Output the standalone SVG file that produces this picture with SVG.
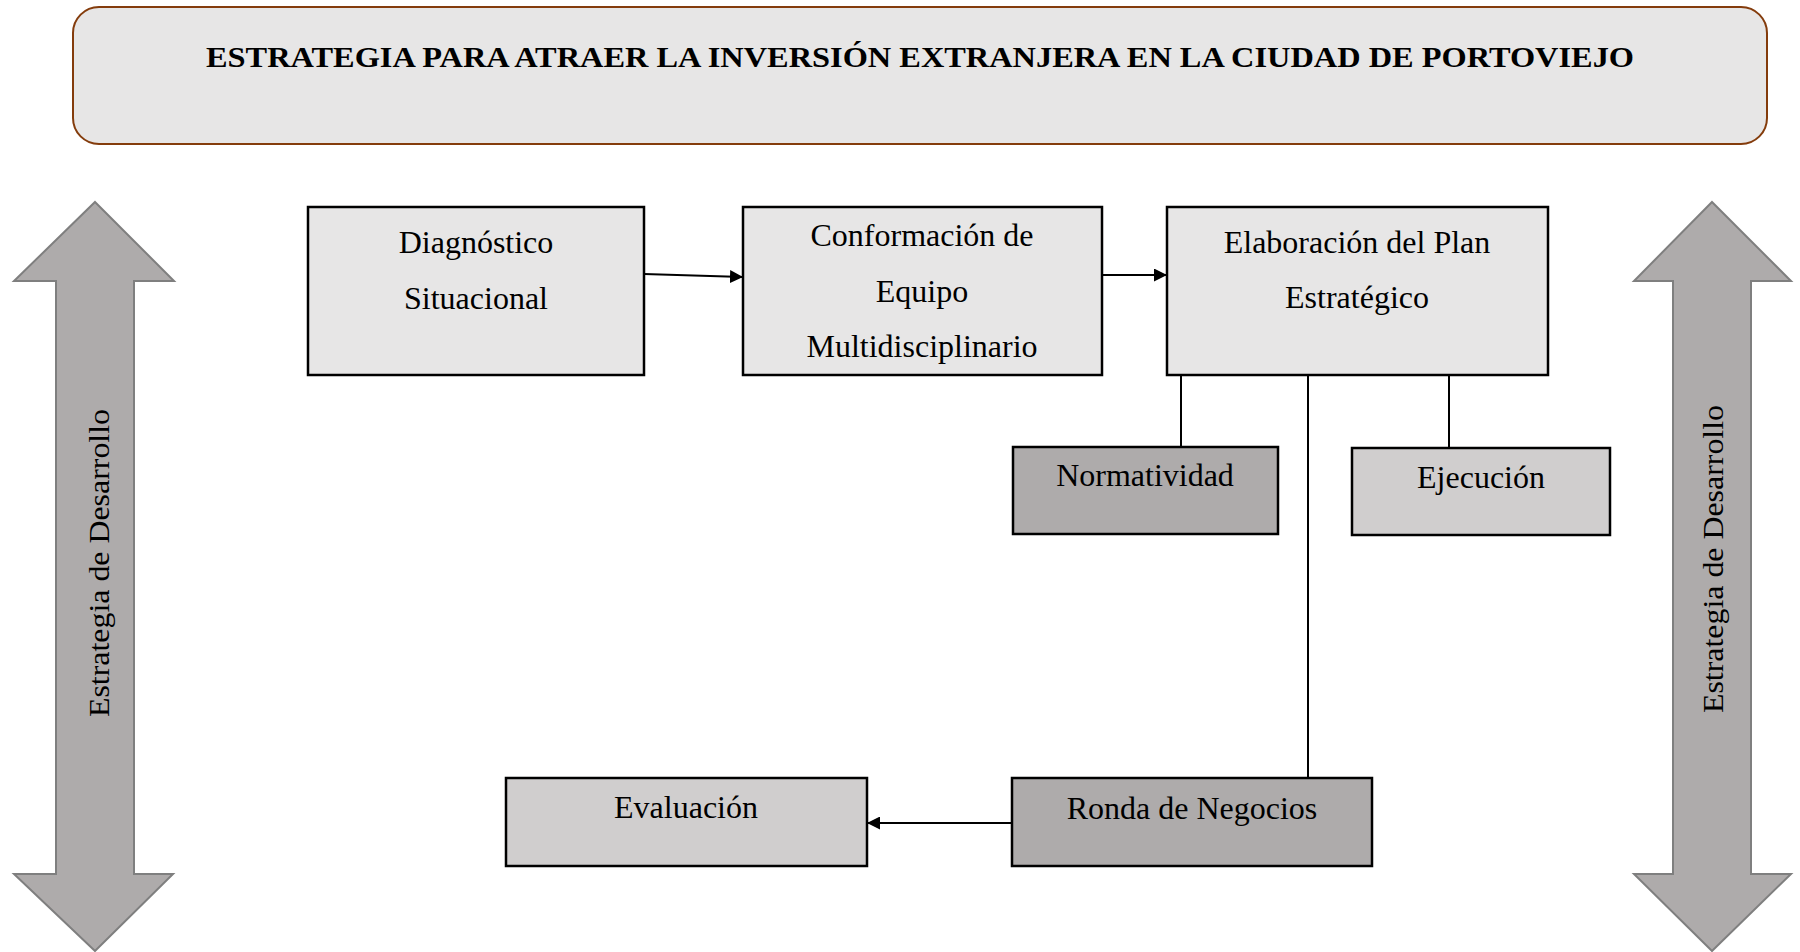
<svg xmlns="http://www.w3.org/2000/svg" width="1800" height="952" viewBox="0 0 1800 952">
<defs>
<style>
.box{stroke:#000;stroke-width:2.5}
.lt{fill:#E7E6E6}
.md{fill:#D0CECE}
.dk{fill:#AEABAB}
.t{font-family:"Liberation Serif","Times New Roman",serif;font-size:32px;fill:#000;text-anchor:middle}
.big{fill:#AEABAB;stroke:#7F7F7F;stroke-width:2}
.c{stroke:#000;stroke-width:2;fill:none}
</style>
<marker id="ah" viewBox="0 0 10 10" refX="10" refY="5" markerWidth="13" markerHeight="13" markerUnits="userSpaceOnUse" orient="auto">
<path d="M0,0 L10,5 L0,10 Z" fill="#000"/>
</marker>
</defs>
<rect width="1800" height="952" fill="#fff"/>

<g id="header">
<rect x="73" y="7" width="1694" height="137" rx="26" ry="26" fill="#E7E6E6" stroke="#843C0C" stroke-width="2"/>
<text x="920" y="67" class="t" style="font-weight:bold;font-size:30px" textLength="1428" lengthAdjust="spacingAndGlyphs">ESTRATEGIA PARA ATRAER LA INVERSIÓN EXTRANJERA EN LA CIUDAD DE PORTOVIEJO</text>
</g>

<g id="arrow-left">
<polygon class="big" points="95,202 174,281 134,281 134,874 173,874 95,951 14,874 56,874 56,281 14,281"/>
<text class="t" style="font-size:30px" transform="translate(109,563) rotate(-90)" textLength="308" lengthAdjust="spacingAndGlyphs">Estrategia de Desarrollo</text>
</g>

<g id="arrow-right">
<polygon class="big" points="1712,202 1791,281 1751,281 1751,874 1791,874 1712,951 1634,874 1673,874 1673,281 1634,281"/>
<text class="t" style="font-size:30px" transform="translate(1723,559) rotate(-90)" textLength="308" lengthAdjust="spacingAndGlyphs">Estrategia de Desarrollo</text>
</g>

<g id="connectors">
<line class="c" x1="644" y1="274" x2="743" y2="277" marker-end="url(#ah)"/>
<line class="c" x1="1102" y1="275" x2="1167" y2="275" marker-end="url(#ah)"/>
<line class="c" x1="1181" y1="375" x2="1181" y2="447"/>
<line class="c" x1="1308" y1="375" x2="1308" y2="778"/>
<line class="c" x1="1449" y1="375" x2="1449" y2="448"/>
<line class="c" x1="1011" y1="823" x2="867" y2="823" marker-end="url(#ah)"/>
</g>

<g id="diagnostico">
<rect class="box lt" x="308" y="207" width="336" height="168"/>
<text class="t" x="476" y="253">Diagnóstico</text>
<text class="t" x="476" y="309">Situacional</text>
</g>

<g id="conformacion">
<rect class="box lt" x="743" y="207" width="359" height="168"/>
<text class="t" x="922" y="246">Conformación de</text>
<text class="t" x="922" y="302">Equipo</text>
<text class="t" x="922" y="357">Multidisciplinario</text>
</g>

<g id="elaboracion">
<rect class="box lt" x="1167" y="207" width="381" height="168"/>
<text class="t" x="1357" y="253">Elaboración del Plan</text>
<text class="t" x="1357" y="308">Estratégico</text>
</g>

<g id="normatividad">
<rect class="box dk" x="1013" y="447" width="265" height="87"/>
<text class="t" x="1145" y="486">Normatividad</text>
</g>

<g id="ejecucion">
<rect class="box md" x="1352" y="448" width="258" height="87"/>
<text class="t" x="1481" y="488">Ejecución</text>
</g>

<g id="ronda">
<rect class="box dk" x="1012" y="778" width="360" height="88"/>
<text class="t" x="1192" y="819">Ronda de Negocios</text>
</g>

<g id="evaluacion">
<rect class="box md" x="506" y="778" width="361" height="88"/>
<text class="t" x="686" y="818">Evaluación</text>
</g>
</svg>
